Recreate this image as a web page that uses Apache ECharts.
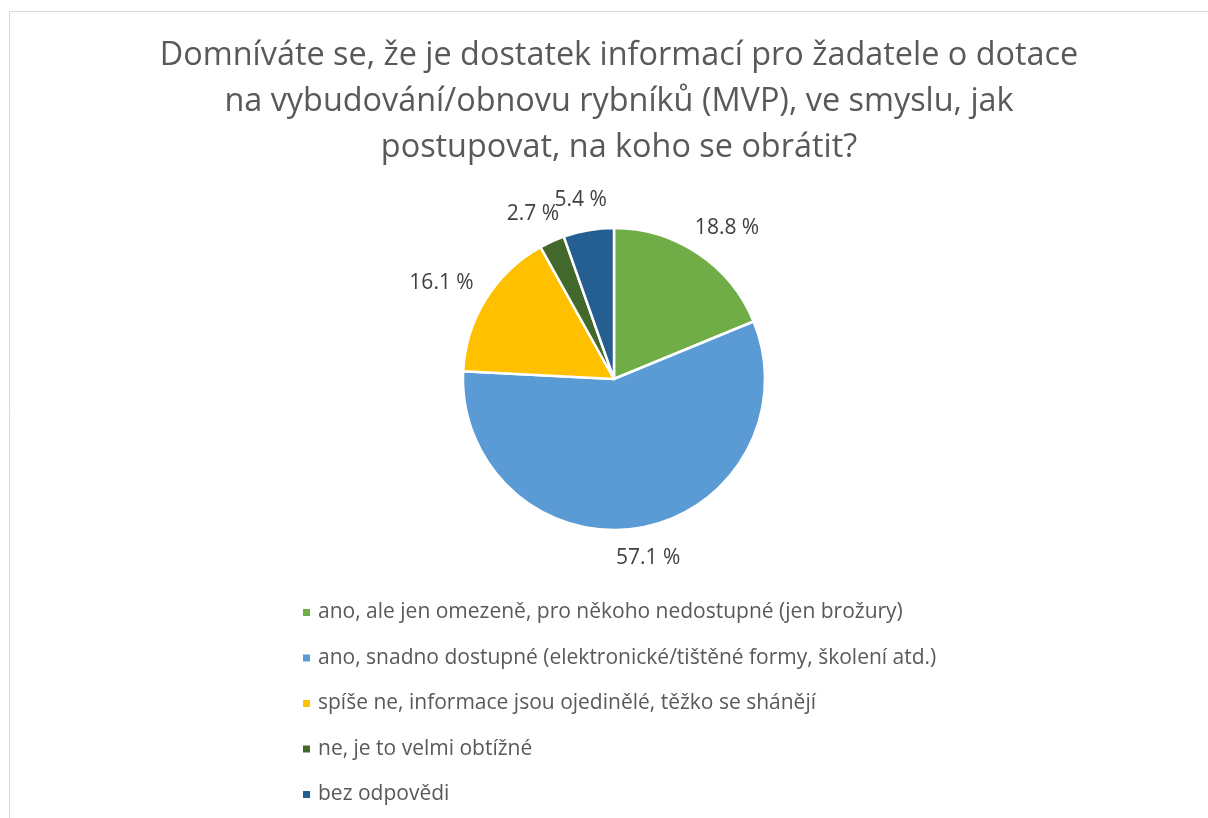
<!DOCTYPE html>
<html>
<head>
<meta charset="utf-8">
<script src="https://cdn.jsdelivr.net/npm/echarts@6/dist/echarts.min.js"></script>
<style>
  html, body { margin: 0; padding: 0; background: #fff; }
  #chart { width: 1208px; height: 818px; }
</style>
</head>
<body>
<div id="chart"></div>
<script>
const titleText = 'Domníváte se, že je dostatek informací pro žadatele o dotace\nna vybudování/obnovu rybníků (MVP), ve smyslu, jak\npostupovat, na koho se obrátit?'
const categories = [
  'ano, ale jen omezeně, pro někoho nedostupné (jen brožury)',
  'ano, snadno dostupné (elektronické/tištěné formy, školení atd.)',
  'spíše ne, informace jsou ojedinělé, těžko se shánějí',
  'ne, je to velmi obtížné',
  'bez odpovědi'
]
const shares = [18.8, 57.1, 16.1, 2.7, 5.4]
const colors = ['#70ad47', '#5b9bd5', '#ffc000', '#43682b', '#255e91']

const font = '"Open Sans", sans-serif'
const pieCenter = [614, 379]
const pieRadius = 151
const labelGap = 20

const chart = echarts.init(document.getElementById('chart'), null, { renderer: 'canvas' })

// put each label just outside the slice, centred on the slice's mid direction (like Excel's best fit)
function placeLabel(params) {
  const pts = params.labelLinePoints
  if (!pts) return {}
  const ux = (pts[0][0] - pieCenter[0]) / pieRadius
  const uy = (pts[0][1] - pieCenter[1]) / pieRadius
  const r = pieRadius + labelGap
  const w = params.labelRect.width, h = params.labelRect.height
  return {
    x: pieCenter[0] + ux * r + ux * w / 2,
    y: pieCenter[1] + uy * r + uy * h / 2,
    align: 'center',
    verticalAlign: 'middle'
  }
}

chart.setOption({
  backgroundColor: '#fff',
  color: colors,
  animation: false,
  title: {
    text: titleText,
    left: 614,
    top: 28,
    textAlign: 'center',
    textStyle: { color: '#595959', fontSize: 32.4, fontWeight: 'normal', lineHeight: 46, fontFamily: font }
  },
  graphic: [{
    type: 'rect',
    shape: { x: 9.5, y: 11.5, width: 1300, height: 900 },
    style: { fill: 'none', stroke: '#d9d9d9', lineWidth: 1 },
    silent: true
  }],
  legend: {
    orient: 'vertical',
    left: 296,
    top: 597,
    itemGap: 24.5,
    icon: 'rect',
    itemWidth: 9,
    itemHeight: 9,
    textStyle: { color: '#595959', fontSize: 21, fontFamily: font, padding: [0, 0, 0, 2] },
    data: categories
  },
  series: [{
    type: 'pie',
    center: pieCenter,
    radius: pieRadius,
    startAngle: 90,
    clockwise: true,
    data: categories.map((name, i) => ({ name, value: shares[i] })),
    itemStyle: { borderColor: '#fff', borderWidth: 2.5 },
    label: {
      show: true,
      position: 'outside',
      formatter: p => p.value.toFixed(1) + ' %',
      color: '#404040',
      fontSize: 21,
      fontFamily: font
    },
    labelLine: { show: false, length: 10, length2: 0 },
    labelLayout: placeLabel,
    emphasis: { disabled: true }
  }]
})
</script>
</body>
</html>
